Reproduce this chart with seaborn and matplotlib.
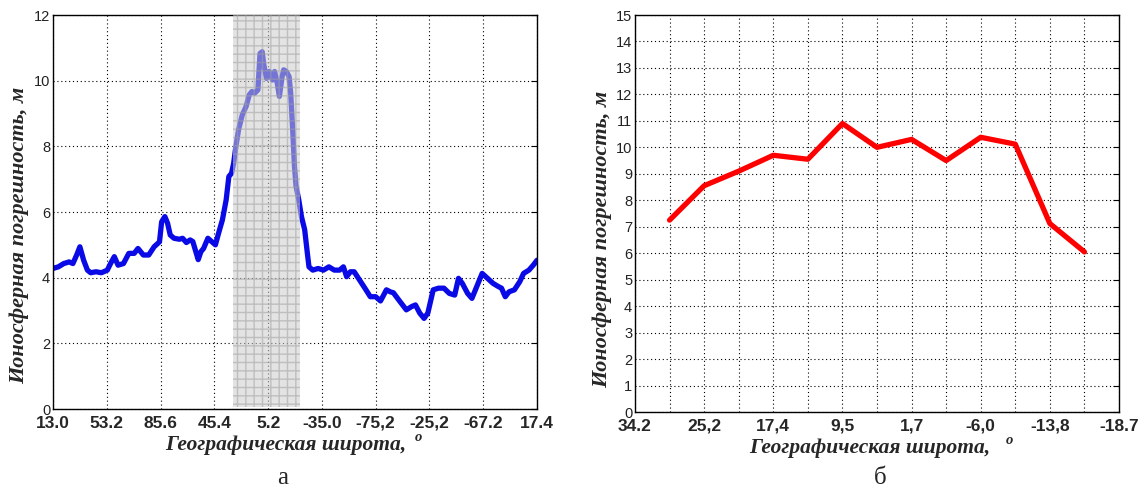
import matplotlib
matplotlib.use("Agg")
import matplotlib.pyplot as plt
import seaborn as sns
import pandas as pd

# ---------------- data: panel "а" ----------------
a_tick_labels = ["13.0", "53.2", "85.6", "45.4", "5.2", "-35.0", "-75,2", "-25,2", "-67.2", "17.4"]
a_x = [0.00, 0.10, 0.20, 0.30, 0.37, 0.44, 0.50, 0.57, 0.64, 0.70, 0.80, 0.90, 1.01, 1.07, 1.14,
       1.21, 1.31, 1.41, 1.51, 1.58, 1.68, 1.78, 1.88, 1.98, 2.02, 2.08, 2.13, 2.18, 2.25, 2.35,
       2.41, 2.48, 2.55, 2.60, 2.70, 2.75, 2.80, 2.88, 2.95, 3.02, 3.08, 3.15, 3.22, 3.27, 3.32,
       3.36, 3.40, 3.45, 3.52, 3.59, 3.65, 3.70, 3.75, 3.81, 3.85, 3.89, 3.92, 3.97, 4.02, 4.08,
       4.12, 4.17, 4.21, 4.26, 4.29, 4.34, 4.39, 4.42, 4.46, 4.49, 4.52, 4.57, 4.62, 4.68, 4.73,
       4.76, 4.83, 4.93, 5.03, 5.13, 5.23, 5.33, 5.40, 5.46, 5.53, 5.60, 5.70, 5.80, 5.90, 6.00,
       6.09, 6.20, 6.27, 6.33, 6.43, 6.57, 6.67, 6.74, 6.82, 6.90, 6.97, 7.07, 7.17, 7.27, 7.37,
       7.47, 7.54, 7.61, 7.71, 7.79, 7.88, 7.98, 8.08, 8.18, 8.28, 8.34, 8.41, 8.48, 8.58, 8.68,
       8.75, 8.85, 8.93, 9.00]
a_y = [4.28, 4.33, 4.43, 4.48, 4.43, 4.69, 4.94, 4.53, 4.23, 4.15, 4.18, 4.15, 4.23, 4.43, 4.64,
       4.38, 4.43, 4.74, 4.74, 4.89, 4.69, 4.69, 4.94, 5.09, 5.70, 5.86, 5.66, 5.30, 5.20, 5.17,
       5.20, 5.07, 5.15, 5.10, 4.55, 4.79, 4.89, 5.20, 5.10, 5.00, 5.36, 5.76, 6.37, 7.08, 7.18,
       7.49, 7.99, 8.50, 8.96, 9.21, 9.57, 9.67, 9.62, 9.72, 10.83, 10.88, 10.48, 10.07, 10.28, 10.02,
       10.28, 9.92, 9.52, 10.12, 10.33, 10.28, 10.12, 9.62, 8.40, 7.39, 6.78, 6.37, 5.86, 5.46, 4.74,
       4.33, 4.23, 4.28, 4.23, 4.33, 4.23, 4.23, 4.33, 4.03, 4.18, 4.18, 3.93, 3.68, 3.42, 3.42,
       3.29, 3.63, 3.57, 3.54, 3.32, 3.02, 3.12, 3.17, 2.92, 2.76, 2.92, 3.63, 3.68, 3.68, 3.52,
       3.47, 3.98, 3.83, 3.52, 3.37, 3.73, 4.13, 3.98, 3.83, 3.73, 3.68, 3.42, 3.57, 3.63, 3.88,
       4.13, 4.23, 4.38, 4.53]
a_shade = [3.34, 4.60]

# ---------------- data: panel "б" ----------------
b_tick_labels = ["34.2", "25,2", "17,4", "9,5", "1,7", "-6,0", "-13,8", "-18.7"]
b_x = [1, 2, 3, 4, 5, 6, 7, 8, 9, 10, 11, 12, 13]
b_y = [7.25, 8.55, 9.10, 9.70, 9.55, 10.90, 10.00, 10.30, 9.50, 10.38, 10.12, 7.12, 6.05]

ylabel = "Ионосферная погрешность, м"
xlabel = "Географическая широта,"

sns.set_style("white")
plt.rcParams['font.family'] = ['Liberation Sans', 'DejaVu Sans']

W, H = 1141, 494
fig = plt.figure(figsize=(W / 100, H / 100), dpi=100)

def px_axes(x0, y0, x1, y1):
    return fig.add_axes([x0 / W, 1 - y1 / H, (x1 - x0) / W, (y1 - y0) / H])

axA = px_axes(53, 15, 537, 409)
axB = px_axes(635, 15, 1119, 412)

serif_bi = dict(family=['Liberation Serif', 'DejaVu Serif'], weight='bold', style='italic')

def style_axes(ax):
    for s in ax.spines.values():
        s.set_color('black')
        s.set_linewidth(1.0)
    ax.tick_params(axis='both', which='both', direction='in', top=False, right=True,
                   length=4, color='black', width=0.8)
    ax.tick_params(axis='x', pad=5)
    ax.tick_params(axis='y', pad=2)
    ax.grid(True, which='both', color='black', linestyle=(0, (1, 2.5)), linewidth=0.8)
    ax.set_axisbelow(True)
    for lab in ax.get_yticklabels():
        lab.set_fontsize(10.5)
        lab.set_color('#222222')

# ----- panel а -----
dfA = pd.DataFrame({"x": a_x, "y": a_y})
sns.lineplot(data=dfA, x="x", y="y", ax=axA, color="#0a0ae6", linewidth=3.8, zorder=2)
axA.axvspan(a_shade[0], a_shade[1], ymin=0.004, ymax=1.0, facecolor='#cccccc', alpha=0.55,
            edgecolor='#a0a0a0', hatch='++', linewidth=0, zorder=3)
axA.set_xlim(0, 9)
axA.set_ylim(0, 12)
axA.set_xticks(range(len(a_tick_labels)))
axA.set_xticklabels(a_tick_labels, fontsize=12.5, fontweight='bold')
axA.set_yticks(range(0, 13, 2))
axA.set_yticklabels([str(v) for v in range(0, 13, 2)])
style_axes(axA)
axA.set_xlabel("")
axA.set_ylabel(ylabel, fontsize=16, **serif_bi)
axA.yaxis.set_label_coords((29 - 53) / 484, (409 - 235) / 394)

# ----- panel б -----
dfB = pd.DataFrame({"x": b_x, "y": b_y})
sns.lineplot(data=dfB, x="x", y="y", ax=axB, color="#ff0000", linewidth=3.8, zorder=2)
axB.set_xlim(0, 14)
axB.set_ylim(0, 15)
axB.set_xticks(range(0, 15, 2))
axB.set_xticklabels(b_tick_labels, fontsize=12.5, fontweight='bold')
axB.set_xticks(range(1, 15, 2), minor=True)
axB.set_yticks(range(0, 16))
axB.set_yticklabels([str(v) for v in range(0, 16)])
style_axes(axB)
axB.set_xlabel("")
axB.set_ylabel(ylabel, fontsize=16, **serif_bi)
axB.yaxis.set_label_coords((612 - 635) / 484, (412 - 239) / 397)

def fx(px):
    return px / W

def fy(py):
    return 1 - py / H

fig.text(fx(286), fy(445), xlabel, ha='center', va='center', fontsize=15.5, **serif_bi)
fig.text(fx(418), fy(437), "o", ha='center', va='center', fontsize=10.5, **serif_bi)
fig.text(fx(870), fy(448), xlabel, ha='center', va='center', fontsize=15.5, **serif_bi)
fig.text(fx(1009), fy(440), "o", ha='center', va='center', fontsize=10.5, **serif_bi)

fig.text(fx(283), fy(478), "а", ha='center', va='center', fontsize=18,
         family=['Liberation Serif', 'DejaVu Serif'])
fig.text(fx(880), fy(478), "б", ha='center', va='center', fontsize=18,
         family=['Liberation Serif', 'DejaVu Serif'])

fig.savefig("out.png", dpi=100)
